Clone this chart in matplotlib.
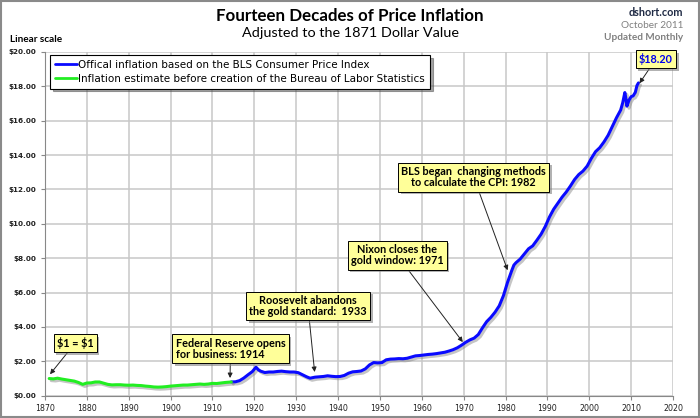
import matplotlib
matplotlib.use("Agg")
import matplotlib.pyplot as plt
import matplotlib.patheffects as pe
from matplotlib.patches import Rectangle

# estimate before the BLS (green) and official CPI series (blue), 1871 dollar = $1
green_years = [1871, 1872, 1873, 1874, 1875, 1876, 1877, 1878, 1879, 1880,
               1881, 1882, 1883, 1884, 1885, 1886, 1887, 1888, 1889, 1890,
               1891, 1892, 1893, 1894, 1895, 1896, 1897, 1898, 1899, 1900,
               1901, 1902, 1903, 1904, 1905, 1906, 1907, 1908, 1909, 1910,
               1911, 1912, 1913, 1914.5]
green_vals = [1.00, 0.98, 1.02, 0.97, 0.93, 0.89, 0.85, 0.77, 0.66, 0.74,
              0.75, 0.80, 0.80, 0.73, 0.66, 0.63, 0.64, 0.64, 0.62, 0.61,
              0.62, 0.60, 0.59, 0.56, 0.54, 0.51, 0.50, 0.51, 0.53, 0.56,
              0.58, 0.60, 0.62, 0.62, 0.64, 0.66, 0.68, 0.66, 0.68, 0.72,
              0.71, 0.74, 0.77, 0.80]

blue_years = [1914.5, 1915.5, 1916.5, 1917.5, 1918.5, 1919.5, 1920.4, 1921.0, 1921.5, 1922.5,
              1923.5, 1924.5, 1925.5, 1926.5, 1927.5, 1928.5, 1929.5, 1930.5, 1931.5, 1932.5,
              1933.3, 1934.5, 1935.5, 1936.5, 1937.5, 1938.5, 1939.5, 1940.5, 1941.5, 1942.5,
              1943.5, 1944.5, 1945.5, 1946.5, 1947.5, 1948.5, 1949.5, 1950.5, 1951.5, 1952.5,
              1953.5, 1954.5, 1955.5, 1956.5, 1957.5, 1958.5, 1959.5, 1960.5, 1961.5, 1962.5,
              1963.5, 1964.5, 1965.5, 1966.5, 1967.5, 1968.5, 1969.5, 1970.5, 1971.5, 1972.5,
              1973.5, 1974.5, 1975.5, 1976.5, 1977.5, 1978.5, 1979.5, 1980.5, 1981.5, 1982.0,
              1982.5, 1983.5, 1984.5, 1985.5, 1986.5, 1987.5, 1988.5, 1989.5, 1990.5, 1991.5,
              1992.5, 1993.5, 1994.5, 1995.5, 1996.5, 1997.5, 1998.5, 1999.5, 2000.5, 2001.5,
              2002.5, 2003.5, 2004.5, 2005.5, 2006.5, 2007.5, 2008.0, 2008.5, 2008.75, 2009.0,
              2009.5, 2010.0, 2010.5, 2011.0, 2011.4, 2011.75]
blue_vals = [0.80, 0.81, 0.88, 1.03, 1.22, 1.40, 1.66, 1.50, 1.43, 1.35,
             1.38, 1.38, 1.41, 1.43, 1.40, 1.38, 1.38, 1.34, 1.22, 1.10,
             1.02, 1.08, 1.10, 1.12, 1.16, 1.13, 1.11, 1.12, 1.18, 1.31,
             1.39, 1.41, 1.44, 1.56, 1.79, 1.93, 1.91, 1.93, 2.09, 2.13,
             2.14, 2.16, 2.15, 2.18, 2.25, 2.32, 2.34, 2.37, 2.40, 2.42,
             2.45, 2.49, 2.53, 2.60, 2.68, 2.79, 2.94, 3.11, 3.25, 3.35,
             3.56, 3.95, 4.31, 4.56, 4.86, 5.23, 5.82, 6.61, 7.29, 7.60,
             7.74, 7.95, 8.25, 8.55, 8.72, 9.05, 9.40, 9.85, 10.40, 10.85,
             11.20, 11.55, 11.85, 12.20, 12.58, 12.87, 13.07, 13.36, 13.81, 14.20,
             14.43, 14.76, 15.15, 15.66, 16.17, 16.62, 17.05, 17.64, 17.30, 16.85,
             17.20, 17.40, 17.45, 17.65, 18.05, 18.20]

x_ticks = list(range(1870, 2021, 10))
y_ticks = list(range(0, 21, 2))
y_labels = ["$%.2f" % v for v in y_ticks]

label_blue = "Offical inflation based on the BLS Consumer Price Index"
label_green = "Inflation estimate before creation of the Bureau of Labor Statistics"

fig = plt.figure(figsize=(7, 4.18), dpi=100)
ax = fig.add_axes([0.0643, 0.0533, 0.8971, 0.8223])

shadow = [pe.SimpleLineShadow(offset=(1.5, -1.5), shadow_color="gray", alpha=0.45), pe.Normal()]
ax.plot(blue_years, blue_vals, color="#0a0aff", lw=2.2, label=label_blue,
        path_effects=shadow, solid_capstyle="round", zorder=3)
ax.plot(green_years, green_vals, color="#22ee22", lw=2.2, label=label_green,
        path_effects=shadow, solid_capstyle="round", zorder=3)

ax.set_xlim(1870, 2020)
ax.set_ylim(0, 20)
ax.set_xticks(x_ticks)
ax.set_yticks(y_ticks)
ax.set_yticklabels(y_labels, fontweight="bold")
ax.tick_params(axis="x", labelsize=5.7, length=3, color="#888888", pad=3, labelcolor="#222222")
ax.tick_params(axis="y", labelsize=5.2, length=3, color="#888888", pad=3, labelcolor="#222222")
ax.grid(True, color="#c8c8c8", lw=1.1)
ax.set_axisbelow(True)
for s in ["top", "right"]:
    ax.spines[s].set_visible(False)
for s in ["left", "bottom"]:
    ax.spines[s].set_color("#888888")

leg = ax.legend(loc="upper left", bbox_to_anchor=(0.008, 0.991), borderaxespad=0,
                fontsize=7.45, fancybox=False, shadow=True, framealpha=1,
                edgecolor="black", handlelength=2.2, handletextpad=0.1,
                labelspacing=0.4, borderpad=0.45)
leg.get_frame().set_linewidth(0.8)
for h in leg.get_lines():
    h.set_path_effects([])
    h.set_linewidth(2)

box = dict(boxstyle="square,pad=0.3", fc="#ffff99", ec="black", lw=0.7)
arrow = dict(arrowstyle="-|>", color="#222222", lw=0.7, mutation_scale=7, shrinkA=0, shrinkB=0)
notes = [
    (r"\$1 = \$1", (1871.2, 1.25), (1877.2, 3.06), "center", "black"),
    ("Federal Reserve opens\nfor business: 1914", (1914.2, 1.03), (1914.3, 2.72), "left", "black"),
    ("Roosevelt abandons\nthe gold standard:  1933", (1934.4, 1.38), (1932.8, 5.22), "center", "black"),
    ("Nixon closes the\ngold window: 1971", (1969.8, 3.12), (1954.1, 8.18), "center", "black"),
    ("BLS began  changing methods\nto calculate the CPI: 1982", (1980.5, 7.3), (1972.4, 12.72), "center", "black"),
    ("$18.20", (2012.0, 18.18), (2015.9, 19.58), "center", "#0000ee"),
]
for txt, tip, pos, align, col in notes:
    a = ax.annotate(txt, xy=tip, xytext=pos, ha="center", va="center", multialignment=align,
                    fontsize=7.8, fontweight="bold", family="Lato", color=col,
                    linespacing=1.05, bbox=box, arrowprops=arrow, zorder=5)
    a.get_bbox_patch().set_path_effects([pe.withSimplePatchShadow(offset=(2, -2), shadow_rgbFace="gray", alpha=0.6)])

fig.text(350 / 700, 1 - 16 / 418, "Fourteen Decades of Price Inflation", ha="center", va="center",
         fontsize=12.2, fontweight="bold", family="Lato", color="black")
fig.text(350 / 700, 1 - 33 / 418, "Adjusted to the 1871 Dollar Value", ha="center", va="center",
         fontsize=10.4, family="Lato", color="black")
fig.text(10 / 700, 1 - 39 / 418, "Linear scale", ha="left", va="center",
         fontsize=7.2, fontweight="bold", family="Lato", color="black")
fig.text(683 / 700, 1 - 12 / 418, "dshort.com", ha="right", va="center",
         fontsize=7.8, fontweight="bold", family="Lato", color="#1f2a44")
fig.text(683 / 700, 1 - 25 / 418, "October 2011", ha="right", va="center",
         fontsize=7.2, family="Lato", color="#808080")
fig.text(683 / 700, 1 - 37 / 418, "Updated Monthly", ha="right", va="center",
         fontsize=7.2, fontweight="bold", family="Lato", color="#808080")

fig.add_artist(Rectangle((0.002, 0.003), 0.996, 0.994, transform=fig.transFigure,
                         fill=False, ec="#8a8a8a", lw=1.5))

fig.savefig("out.png", dpi=100)
